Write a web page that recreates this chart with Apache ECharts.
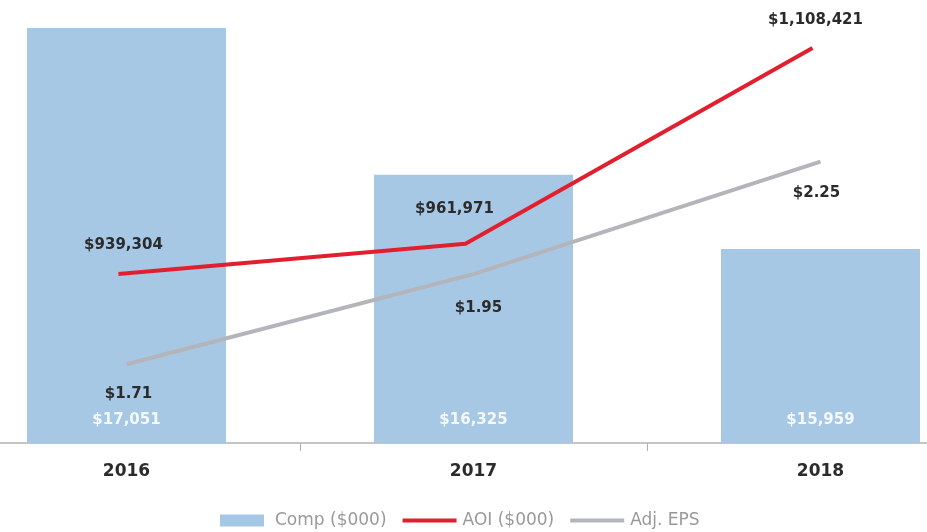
<!DOCTYPE html>
<html>
<head>
<meta charset="utf-8">
<script src="https://cdn.jsdelivr.net/npm/echarts@6/dist/echarts.min.js"></script>
<style>html,body{margin:0;padding:0;background:#fff}#c{width:927px;height:532px}</style>
</head>
<body>
<div id="c"></div>
<script>
var years = ['2016', '2017', '2018'];
var comp = [17051, 16325, 15959];
var aoi = [939304, 961971, 1108421];
var eps = [1.71, 1.95, 2.25];
var aoiLabelOffsets = [[5, -16], [-11, -22], [3, -15]];
var epsLabelOffsets = [[2, 17], [5, 21], [-4, 19]];

function money(v) {
  return '$' + v.toLocaleString('en-US');
}
var FONT = 'DejaVu Sans';
var LINE_ICON = 'path://M0,0 H54 V4 H0 Z';
var RECT_ICON = 'path://M0,0 H44 V12 H0 Z';

var chart = echarts.init(document.getElementById('c'));
chart.setOption({
  animation: false,
  textStyle: { fontFamily: FONT },
  grid: [
    { left: -47, right: -67, top: 16, bottom: 89, outerBoundsMode: 'none', containLabel: false },
    { left: -55, right: -59, top: 16, bottom: 89, outerBoundsMode: 'none', containLabel: false }
  ],
  legend: {
    left: 215, top: 507,
    itemWidth: 54, itemHeight: 12, itemGap: 16,
    symbolKeepAspect: true,
    textStyle: { color: '#999999', fontSize: 17, fontFamily: FONT, padding: [0, 0, 0, 1] },
    data: [
      { name: 'Comp ($000)', icon: RECT_ICON },
      { name: 'AOI ($000)', icon: LINE_ICON },
      { name: 'Adj. EPS', icon: LINE_ICON }
    ]
  },
  xAxis: [
    {
      type: 'category', data: years, gridIndex: 0,
      axisLine: { lineStyle: { color: '#b0b0b0', width: 1.5 } },
      axisTick: { show: true, length: 8, lineStyle: { color: '#b0b0b0' } },
      axisLabel: { fontSize: 17, fontWeight: 'bold', color: '#2b2b2b', margin: 20 }
    },
    { type: 'category', data: years, gridIndex: 1, show: false }
  ],
  yAxis: [
    { type: 'value', gridIndex: 0, min: 15000, max: 17110, show: false, splitLine: { show: false } },
    { type: 'value', gridIndex: 1, min: 812845, max: 1132366, show: false, splitLine: { show: false } },
    { type: 'value', gridIndex: 0, min: 1.5, max: 2.638, show: false, splitLine: { show: false } }
  ],
  series: [
    {
      name: 'Comp ($000)', type: 'bar', xAxisIndex: 0, yAxisIndex: 0,
      data: comp, barWidth: 199,
      itemStyle: { color: '#a7c8e5' },
      label: {
        show: true, position: 'insideBottom', distance: 15,
        color: 'rgba(255,255,255,0.88)', fontSize: 15, fontWeight: 'bold',
        formatter: function (p) { return money(p.value); }
      }
    },
    {
      name: 'AOI ($000)', type: 'line', xAxisIndex: 1, yAxisIndex: 1,
      symbol: 'circle', symbolSize: 0.01, showSymbol: true,
      lineStyle: { color: '#e11f2f', width: 4 },
      itemStyle: { color: '#e11f2f' },
      data: aoi.map(function (v, i) {
        return { value: v, label: { offset: aoiLabelOffsets[i] } };
      }),
      label: {
        show: true, position: 'top', color: '#2b2b2b', fontSize: 15, fontWeight: 'bold',
        formatter: function (p) { return money(p.value); }
      }
    },
    {
      name: 'Adj. EPS', type: 'line', xAxisIndex: 0, yAxisIndex: 2,
      symbol: 'circle', symbolSize: 0.01, showSymbol: true,
      lineStyle: { color: '#b4b5ba', width: 4 },
      itemStyle: { color: '#b4b5ba' },
      data: eps.map(function (v, i) {
        return { value: v, label: { offset: epsLabelOffsets[i] } };
      }),
      label: {
        show: true, position: 'bottom', color: '#2b2b2b', fontSize: 15, fontWeight: 'bold',
        formatter: function (p) { return '$' + p.value.toFixed(2); }
      }
    }
  ]
});
</script>
</body>
</html>
